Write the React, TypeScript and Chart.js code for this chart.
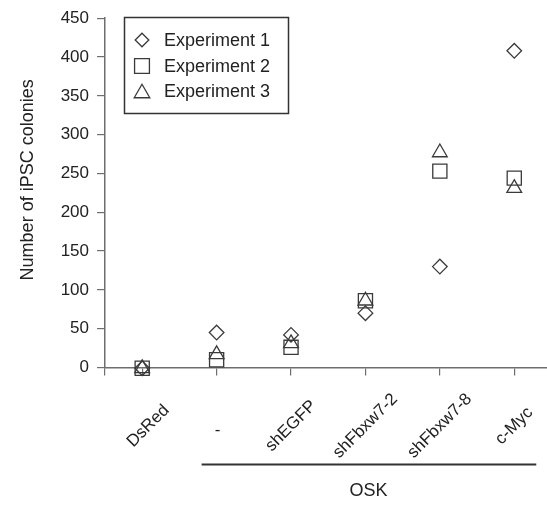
import React, { useEffect, useRef } from 'react';
import { Chart, registerables } from 'chart.js';

Chart.register(...registerables);

// ---- data ----
const categories = ['DsRed', '-', 'shEGFP', 'shFbxw7-2', 'shFbxw7-8', 'c-Myc'];
const experiment1 = [-1, 45, 42, 70, 130, 408];
const experiment2 = [-1, 10, 26, 86, 253, 244];
const experiment3 = [-1, 17, 31, 86, 277, 231];
const seriesNames = ['Experiment 1', 'Experiment 2', 'Experiment 3'];
const yTickValues = [0, 50, 100, 150, 200, 250, 300, 350, 400, 450];
const groupLabel = 'OSK';
const yTitle = 'Number of iPSC colonies';

// ---- styles ----
const FONT = '"Liberation Sans", Arial, Helvetica, sans-serif';
const AXIS = '#6e6e6e';
const INK = '#222222';
const MARK = '#3a3a3a';

type Shape = 'diamond' | 'square' | 'triangle';

function drawShape(ctx: CanvasRenderingContext2D, shape: Shape, x: number, y: number, r: number) {
  ctx.beginPath();
  if (shape === 'diamond') {
    ctx.moveTo(x - r, y);
    ctx.lineTo(x, y - r);
    ctx.lineTo(x + r, y);
    ctx.lineTo(x, y + r);
    ctx.closePath();
  } else if (shape === 'square') {
    const h = r * Math.SQRT1_2;
    ctx.rect(x - h, y - h, 2 * h, 2 * h);
  } else {
    for (let k = 0; k < 3; k++) {
      const a = (k * 2 * Math.PI) / 3;
      const px = x + Math.sin(a) * r;
      const py = y - Math.cos(a) * r;
      if (k === 0) ctx.moveTo(px, py);
      else ctx.lineTo(px, py);
    }
    ctx.closePath();
  }
  ctx.stroke();
}

const decorPlugin = {
  id: 'decor',
  afterDraw(chart: any) {
    const ctx: CanvasRenderingContext2D = chart.ctx;
    const xs = chart.scales.x;
    const ys = chart.scales.y;
    ctx.save();

    // legend box
    ctx.strokeStyle = '#333';
    ctx.lineWidth = 1.5;
    ctx.strokeRect(124.5, 17.5, 164, 96);
    const shapes: Shape[] = ['diamond', 'square', 'triangle'];
    const radii = [6.8, 10.5, 9];
    const rowY = [40, 66, 91];
    ctx.font = `18px ${FONT}`;
    ctx.textAlign = 'left';
    ctx.textBaseline = 'middle';
    seriesNames.forEach((name, i) => {
      ctx.strokeStyle = MARK;
      ctx.lineWidth = 1.3;
      const yy = shapes[i] === 'triangle' ? rowY[i] + radii[i] / 4 : rowY[i];
      drawShape(ctx, shapes[i], 142, yy, radii[i]);
      ctx.fillStyle = INK;
      ctx.fillText(name, 164, rowY[i] + 1);
    });

    // rotated category labels, centred on each category
    ctx.font = `17px ${FONT}`;
    ctx.fillStyle = INK;
    ctx.textAlign = 'center';
    ctx.textBaseline = 'middle';
    categories.forEach((c, i) => {
      const px = xs.getPixelForValue(i);
      ctx.save();
      if (c === '-') {
        ctx.translate(px + 1, 430);
      } else {
        ctx.translate(px + (i === 0 ? 6 : 0), 426);
        ctx.rotate(-Math.PI / 4);
      }
      ctx.fillText(c, 0, 0);
      ctx.restore();
    });

    // group bracket line and label
    const x1 = xs.getPixelForValue(1) - 15;
    const x5 = xs.getPixelForValue(5) + 22;
    ctx.strokeStyle = '#333';
    ctx.lineWidth = 2;
    ctx.beginPath();
    ctx.moveTo(x1, 464.5);
    ctx.lineTo(x5, 464.5);
    ctx.stroke();
    ctx.font = `18px ${FONT}`;
    ctx.fillStyle = INK;
    ctx.textAlign = 'center';
    ctx.textBaseline = 'middle';
    ctx.fillText(groupLabel, xs.getPixelForValue(3) + 3, 491);

    // y axis title
    ctx.save();
    const cy = (ys.top + ys.bottom) / 2 - 13;
    ctx.translate(33, cy);
    ctx.rotate(-Math.PI / 2);
    ctx.font = `18px ${FONT}`;
    ctx.textAlign = 'center';
    ctx.textBaseline = 'alphabetic';
    ctx.fillText(yTitle, 0, 0);
    ctx.restore();

    ctx.restore();
  },
};

export default function App() {
  const ref = useRef<HTMLCanvasElement | null>(null);

  useEffect(() => {
    if (!ref.current) return;
    const mk = (vals: number[]) => vals.map((v, i) => ({ x: i, y: v }));
    const base = {
      showLine: false,
      borderColor: MARK,
      backgroundColor: 'rgba(0,0,0,0)',
      borderWidth: 1.3,
      clip: false as any,
    };
    const chart = new Chart(ref.current, {
      type: 'scatter',
      data: {
        datasets: [
          { ...base, label: seriesNames[0], data: mk(experiment1), pointStyle: 'rectRot', pointRadius: 7.3 },
          { ...base, label: seriesNames[1], data: mk(experiment2), pointStyle: 'rect', pointRadius: 10 },
          { ...base, label: seriesNames[2], data: mk(experiment3), pointStyle: 'triangle', pointRadius: 8.5 },
        ],
      },
      options: {
        animation: false,
        responsive: false,
        maintainAspectRatio: false,
        layout: { autoPadding: false, padding: { top: 16, right: 0, bottom: 0, left: 0 } },
        plugins: {
          legend: { display: false },
          tooltip: { enabled: false },
        },
        scales: {
          x: {
            type: 'linear',
            min: -0.5,
            max: 5.44,
            afterBuildTicks: (s: any) => {
              s.ticks = [-0.5, 0, 1, 2, 3, 4, 5].map((v) => ({ value: v }));
            },
            afterFit: (s: any) => {
              s.height = 139.5;
            },
            ticks: { display: false },
            grid: { drawOnChartArea: false, drawTicks: true, tickLength: 8, color: AXIS, lineWidth: 1.2 },
            border: { display: true, color: AXIS, width: 1.5 },
          },
          y: {
            min: 0,
            max: 450,
            afterBuildTicks: (s: any) => {
              s.ticks = yTickValues.map((v) => ({ value: v }));
            },
            afterFit: (s: any) => {
              s.width = 105;
            },
            ticks: { padding: 8, color: INK, font: { size: 17, family: FONT } },
            grid: { drawOnChartArea: false, drawTicks: true, tickLength: 8, color: AXIS, lineWidth: 1.2 },
            border: { display: true, color: AXIS, width: 1.5 },
          },
        },
      } as any,
      plugins: [decorPlugin],
    });
    return () => chart.destroy();
  }, []);

  return (
    <div style={{ position: 'absolute', left: 0, top: 0, width: 547, height: 507, background: '#fff' }}>
      <canvas ref={ref} width={547} height={507} style={{ width: 547, height: 507, display: 'block' }} />
    </div>
  );
}
